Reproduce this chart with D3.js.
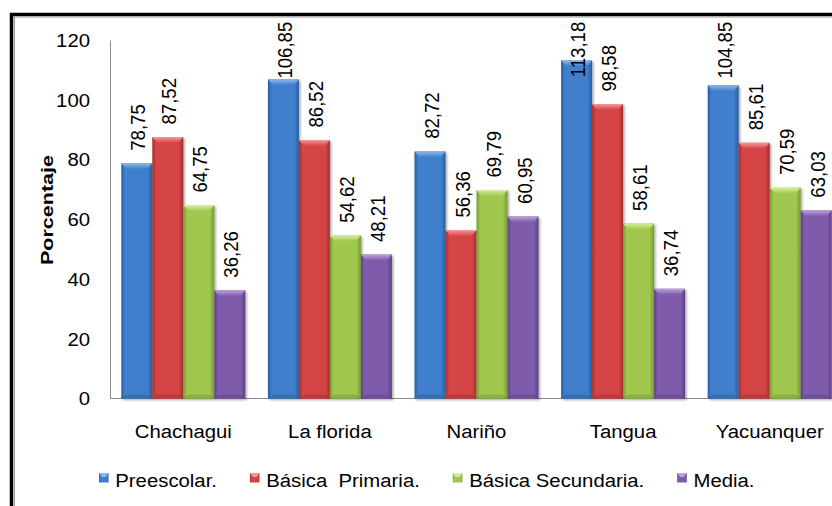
<!DOCTYPE html>
<html><head><meta charset="utf-8">
<script src="https://cdn.jsdelivr.net/npm/d3@7"></script>
<style>
html,body{margin:0;padding:0;background:#fff;}
svg{display:block;}
text{font-family:"Liberation Sans",Arial,sans-serif;fill:#000;white-space:pre;}
</style></head>
<body>
<svg id="chart" width="832" height="506"></svg>
<script>
const categories = ["Chachagui", "La florida", "Nariño", "Tangua", "Yacuanquer"];
const seriesNames = ["Preescolar.", "Básica  Primaria.", "Básica Secundaria.", "Media."];
const preescolar = [78.75, 106.85, 82.72, 113.18, 104.85];
const basicaPrimaria = [87.52, 86.52, 56.36, 98.58, 85.61];
const basicaSecundaria = [64.75, 54.62, 69.79, 58.61, 70.59];
const media = [36.26, 48.21, 60.95, 36.74, 63.03];
const yTicks = [0, 20, 40, 60, 80, 100, 120];
const yTitle = "Porcentaje";

const seriesValues = [preescolar, basicaPrimaria, basicaSecundaria, media];
const colors = [
  {mid:"#3f7fcc", edge:"#2b5d9c", top:"#8db8ec"},
  {mid:"#d64545", edge:"#a42d2d", top:"#f29a9a"},
  {mid:"#a0c84f", edge:"#769a34", top:"#d8ef9e"},
  {mid:"#7f5cab", edge:"#5c4083", top:"#bca5dc"}
];
const SX = 1.13;

const svg = d3.select("#chart");
const defs = svg.append("defs");
colors.forEach((c,i)=>{
  const g = defs.append("linearGradient").attr("id","g"+i).attr("x1","0").attr("x2","1").attr("y1","0").attr("y2","0");
  g.append("stop").attr("offset","0").attr("stop-color",c.edge);
  g.append("stop").attr("offset","0.12").attr("stop-color",c.mid);
  g.append("stop").attr("offset","0.85").attr("stop-color",c.mid);
  g.append("stop").attr("offset","1").attr("stop-color",c.edge);
  const t = defs.append("linearGradient").attr("id","t"+i).attr("x1","0").attr("x2","0").attr("y1","0").attr("y2","1");
  t.append("stop").attr("offset","0").attr("stop-color",c.top);
  t.append("stop").attr("offset","1").attr("stop-color",c.mid);
});
const f = defs.append("filter").attr("id","sh").attr("x","-20%").attr("y","-5%").attr("width","150%").attr("height","115%");
f.append("feDropShadow").attr("dx",1.5).attr("dy",1.5).attr("stdDeviation",1.2).attr("flood-color","#000").attr("flood-opacity",0.35);

// frame
svg.append("line").attr("x1",11.5).attr("x2",11.5).attr("y1",13).attr("y2",506).attr("stroke","#000").attr("stroke-width",3.5);
svg.append("line").attr("x1",10).attr("x2",832).attr("y1",14.5).attr("y2",14.5).attr("stroke","#000").attr("stroke-width",3.5);
svg.append("line").attr("x1",14.5).attr("x2",14.5).attr("y1",16.5).attr("y2",506).attr("stroke","#9a9a9a").attr("stroke-width",1);
svg.append("line").attr("x1",14).attr("x2",832).attr("y1",17).attr("y2",17).attr("stroke","#9a9a9a").attr("stroke-width",1);

const x0 = 110, step = 146.6;
const pad = 22.6/step;
const x = d3.scaleBand().domain(categories).range([x0, x0 + step*categories.length]).paddingInner(pad).paddingOuter(pad/2);
const xs = d3.scaleBand().domain(d3.range(seriesNames.length)).range([0, x.bandwidth()]);
const y = d3.scaleLinear().domain([0,120]).range([398.5, 40]);

// axes
const yAxis = d3.axisLeft(y).tickValues(yTicks).tickSize(0).tickPadding(20).tickFormat(d3.format("d"));
const ya = svg.append("g").attr("transform",`translate(${x0},0)`).call(yAxis);
ya.select(".domain").attr("stroke","#8c8c8c").attr("stroke-width",1);
ya.selectAll(".tick text").attr("font-size",18).attr("font-family",'"Liberation Sans",Arial,sans-serif')
  .attr("x",0).attr("dy","0.35em")
  .attr("transform",function(){ return `translate(-20,0) scale(${SX},1)`; });

svg.append("line").attr("x1",x0).attr("x2",832).attr("y1",y(0)).attr("y2",y(0)).attr("stroke","#8c8c8c");

// bars
const data = [];
categories.forEach((c,ci)=>seriesValues.forEach((arr,si)=>data.push({c, si, v:arr[ci]})));
const bw = xs.bandwidth();
const bars = svg.append("g");
data.forEach(d=>{
  const bx = x(d.c) + xs(d.si), by = y(d.v), bh = y(0) - y(d.v);
  const g = bars.append("g");
  g.append("rect").attr("x",bx).attr("y",by).attr("width",bw).attr("height",bh).attr("fill",`url(#g${d.si})`).attr("filter","url(#sh)");
  g.append("polygon").attr("points",[[bx,by],[bx+bw,by],[bx+bw-5,by+6],[bx+5,by+6]].map(p=>p.join(",")).join(" "))
    .attr("fill",`url(#t${d.si})`);
  g.append("polygon").attr("points",[[bx,y(0)],[bx+bw,y(0)],[bx+bw-5,y(0)-4],[bx+5,y(0)-4]].map(p=>p.join(",")).join(" "))
    .attr("fill",colors[d.si].edge).attr("opacity",0.5);
});

// value labels
const fmt = v => v.toFixed(2).replace(".", ",");
const labels = svg.append("g");
data.forEach(d=>{
  const cx = x(d.c) + xs(d.si) + bw/2 + 1;
  const t = labels.append("text").attr("font-size",18.6).attr("dy","0.36em").text(fmt(d.v));
  const len = t.node().getComputedTextLength();
  let yb = y(d.v) - 12.5;
  if (yb - len < 21.7) yb = 21.7 + len;
  t.attr("transform",`translate(${cx},${yb}) rotate(-90) scale(1,${SX})`);
});

// category labels
svg.append("g").selectAll("text").data(categories).join("text")
  .attr("font-size",18).attr("text-anchor","middle")
  .attr("transform",d=>`translate(${x(d)+x.bandwidth()/2},438) scale(${SX},1)`)
  .text(d=>d);

// y title
svg.append("text").attr("font-size",17).attr("font-weight","bold").attr("text-anchor","middle")
  .attr("textLength",110).attr("lengthAdjust","spacingAndGlyphs")
  .attr("transform","translate(52.5,210) rotate(-90)").text(yTitle);

// legend
let lx = 99;
const lg = svg.append("g");
seriesNames.forEach((n,i)=>{
  lg.append("rect").attr("x",lx).attr("y",473).attr("width",9.5).attr("height",9.5).attr("fill",`url(#g${i})`);
  lg.append("polygon").attr("points",[[lx,473],[lx+9.5,473],[lx+6.5,477],[lx+3,477]].map(p=>p.join(",")).join(" ")).attr("fill",colors[i].top);
  const t = lg.append("text").attr("font-size",18).attr("transform",`translate(${lx+16.3},486.5) scale(${SX},1)`).text(n);
  const w = t.node().getComputedTextLength()*SX;
  lx += 16.3 + w + 33;
});
</script>
</body></html>
